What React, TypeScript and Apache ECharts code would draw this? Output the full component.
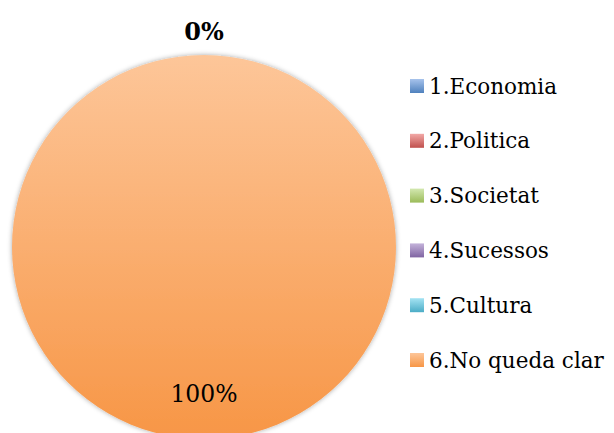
import React, { useEffect, useRef } from "react";
import * as echarts from "echarts";

const categories = ["1.Economia", "2.Politica", "3.Societat", "4.Sucessos", "5.Cultura", "6.No queda clar"];
const values = [0, 0, 0, 0, 0, 100];
const baseColors = ["#4F81BD", "#C0504D", "#9BBB59", "#8064A2", "#4BACC6", "#F79646"];
const lightColors = ["#A7C3EC", "#F2A9A7", "#D3E8B0", "#C4B3DA", "#A4E3F3", "#FDC699"];

function grad(i: number) {
  return new echarts.graphic.LinearGradient(0, 0, 0, 1, [
    { offset: 0, color: lightColors[i] },
    { offset: 1, color: baseColors[i] },
  ]);
}

export default function App() {
  const ref = useRef<HTMLDivElement>(null);
  useEffect(() => {
    if (!ref.current) return;
    const chart = echarts.init(ref.current, null, { renderer: "svg" });
    const font = "DejaVu Serif";
    chart.setOption({
      animation: false,
      backgroundColor: "#ffffff",
      legend: {
        orient: "vertical",
        left: 405,
        top: 69,
        itemWidth: 14,
        itemHeight: 14,
        itemGap: 30.8,
        icon: "rect",
        data: categories,
        textStyle: { fontFamily: font, fontSize: 21.5, color: "#000", lineHeight: 24 },
      },
      series: [
        {
          type: "pie",
          center: [204, 247],
          radius: 192,
          startAngle: 90,
          clockwise: true,
          avoidLabelOverlap: false,
          itemStyle: { shadowBlur: 5, shadowColor: "rgba(0,0,0,0.35)" },
          labelLine: { show: false, length: 8, length2: 0 },
          data: categories.map((name, i) => ({
            name,
            value: values[i],
            itemStyle: { color: grad(i) },
            label:
              i === 0
                ? {
                    show: true,
                    position: "outside",
                    formatter: "{d}%",
                    fontFamily: font,
                    fontSize: 24,
                    fontWeight: "bold",
                    color: "#000",
                  }
                : i === 5
                ? {
                    show: true,
                    position: "inside",
                    formatter: "{d}%",
                    fontFamily: font,
                    fontSize: 23.5,
                    color: "#000",
                  }
                : { show: false },
          })),
          labelLayout: (params: any) => {
            if (params.dataIndex === 0) {
              return { x: params.rect.x + params.rect.width / 2, y: 31, align: "center", verticalAlign: "middle" };
            }
            if (params.dataIndex === 5) {
              return { dy: 48 };
            }
            return {};
          },
        },
      ],
    });
    return () => chart.dispose();
  }, []);
  return <div ref={ref} style={{ position: "fixed", left: 0, top: 0, width: 614, height: 433 }} />;
}
